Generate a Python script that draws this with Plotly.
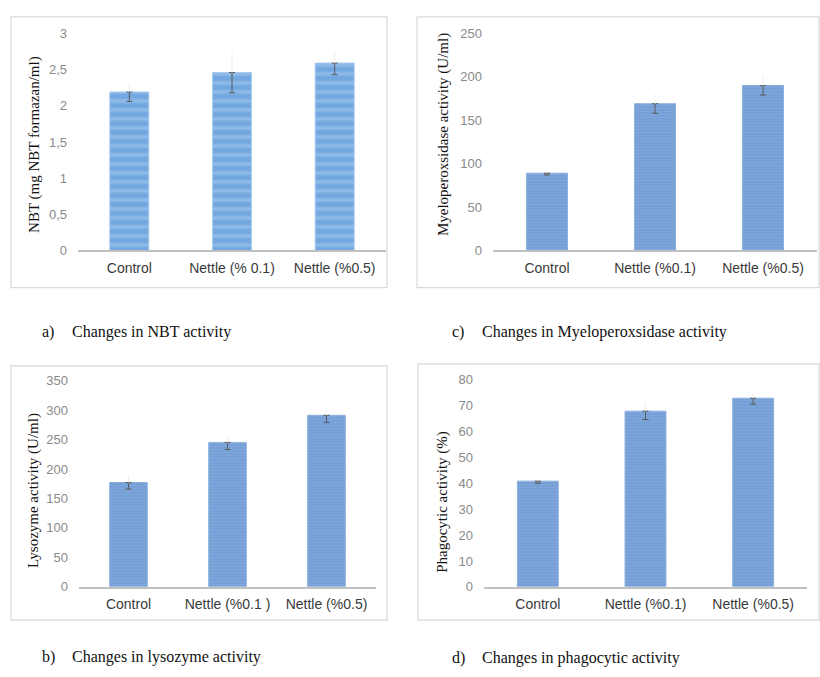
import plotly.graph_objects as go

W, H = 820, 677

# ---------------- data ----------------
cats_a = ["Control", "Nettle (% 0.1)", "Nettle (%0.5)"]
nbt = [2.19, 2.46, 2.59]
nbt_err = [0.13, 0.28, 0.16]

cats_c = ["Control", "Nettle (%0.1)", "Nettle (%0.5)"]
mpo = [89, 169, 190]
mpo_err = [2, 11, 11]

cats_b = ["Control", "Nettle (%0.1 )", "Nettle (%0.5)"]
lyso = [177, 245, 291]
lyso_err = [11, 12, 12]

cats_d = ["Control", "Nettle (%0.1)", "Nettle (%0.5)"]
phago = [40.8, 67.8, 72.8]
phago_err = [0.8, 3.2, 2.3]

ticks_a = [0, 0.5, 1, 1.5, 2, 2.5, 3]
ticktext_a = ["0", "0,5", "1", "1,5", "2", "2,5", "3"]
ticks_c = [0, 50, 100, 150, 200, 250]
ticks_b = [0, 50, 100, 150, 200, 250, 300, 350]
ticks_d = [0, 10, 20, 30, 40, 50, 60, 70, 80]

captions = [
    ("a)", "Changes in NBT activity", 40, 332),
    ("c)", "Changes in Myeloperoxsidase activity", 450, 332),
    ("b)", "Changes in lysozyme activity", 40, 665),
    ("d)", "Changes in phagocytic activity", 450, 666),
]

# ---------------- layout helpers ----------------
def px_x(p):
    return p / W

def px_y(p):
    return 1 - p / H

panels = [
    dict(cats=cats_a, vals=nbt, err=nbt_err, ticks=ticks_a, ticktext=ticktext_a, yr=[0, 3],
         xd=(78, 386), yd=(27, 249), title="NBT (mg NBT formazan/ml)", tpos=(35, 141), wide=True,
         box=(11, 10, 387, 287)),
    dict(cats=cats_c, vals=mpo, err=mpo_err, ticks=ticks_c, ticktext=None, yr=[0, 250],
         xd=(493, 817), yd=(27, 249), title="Myeloperoxsidase activity (U/ml)", tpos=(443, 131), wide=False,
         box=(417, 10, 819, 287)),
    dict(cats=cats_b, vals=lyso, err=lyso_err, ticks=ticks_b, ticktext=None, yr=[0, 350],
         xd=(79, 376), yd=(382, 593), title="Lysozyme activity (U/ml)", tpos=(33, 495), wide=False,
         box=(11, 367, 387, 627)),
    dict(cats=cats_d, vals=phago, err=phago_err, ticks=ticks_d, ticktext=None, yr=[0, 80],
         xd=(484, 807), yd=(381, 593), title="Phagocytic activity (%)", tpos=(443, 506), wide=False,
         box=(418, 365, 819, 627)),
]

fig = go.Figure()
annotations = []
shapes = []

for i, p in enumerate(panels, start=1):
    xa = "x" if i == 1 else f"x{i}"
    ya = "y" if i == 1 else f"y{i}"
    if p["wide"]:
        pattern = dict(shape="-", size=9, solidity=0.45, fgcolor="#a6cbef", bgcolor="#72a7e0",
                       fillmode="overlay")
        line = dict(color="#a9cbee", width=1)
    else:
        pattern = dict(shape="-", size=3, solidity=0.35, fgcolor="#5d89c6", bgcolor="#7fa7dc",
                       fillmode="overlay")
        line = dict(color="#8db0de", width=1)
    fig.add_trace(go.Bar(
        x=p["cats"], y=p["vals"], xaxis=xa, yaxis=ya,
        marker=dict(color="#7aa6dc", pattern=pattern, line=line),
        error_y=dict(type="data", symmetric=False, array=[0] * 3, arrayminus=p["err"],
                     color="#5a5a5a", thickness=1, width=3),
        showlegend=False, hoverinfo="skip",
    ))
    # faint upper half of error bars
    fig.add_trace(go.Scatter(
        x=p["cats"], y=p["vals"], xaxis=xa, yaxis=ya, mode="markers",
        marker=dict(size=1, opacity=0),
        error_y=dict(type="data", symmetric=False, array=p["err"], arrayminus=[0] * 3,
                     color="#eeeeee", thickness=1, width=0),
        showlegend=False, hoverinfo="skip",
    ))
    xkey = "xaxis" if i == 1 else f"xaxis{i}"
    ykey = "yaxis" if i == 1 else f"yaxis{i}"
    fig.update_layout(**{
        xkey: dict(domain=[px_x(p["xd"][0]), px_x(p["xd"][1])], anchor=ya,
                   showline=True, linecolor="#c0c0c0", linewidth=1.5, ticks="",
                   showgrid=False, zeroline=False,
                   tickfont=dict(family="Liberation Sans", size=14, color="#3a3a3a"),
                   ticklabelstandoff=4, fixedrange=True),
        ykey: dict(domain=[px_y(p["yd"][1]), px_y(p["yd"][0])], anchor=xa,
                   range=p["yr"], tickvals=p["ticks"],
                   ticktext=p["ticktext"] if p["ticktext"] else [str(t) for t in p["ticks"]],
                   showline=False, showgrid=False, zeroline=False, ticks="",
                   tickfont=dict(family="Liberation Sans", size=13, color="#8a8a8a"),
                   ticklabelstandoff=10, fixedrange=True),
    })
    annotations.append(dict(
        text=p["title"], x=px_x(p["tpos"][0]), y=px_y(p["tpos"][1]), xref="paper", yref="paper",
        textangle=-90, showarrow=False, xanchor="center", yanchor="middle",
        font=dict(family="Liberation Serif", size=15, color="#111111"),
    ))
    bx0, by0, bx1, by1 = p["box"]
    shapes.append(dict(type="rect", xref="paper", yref="paper",
                       x0=px_x(bx0), x1=px_x(bx1), y0=px_y(by1), y1=px_y(by0),
                       line=dict(color="#d9d9d9", width=1.2), fillcolor="rgba(0,0,0,0)",
                       layer="below"))

for lab, txt, cx, cy in captions:
    annotations.append(dict(
        text=lab, x=px_x(cx), y=px_y(cy), xref="paper", yref="paper", showarrow=False,
        xanchor="left", yanchor="middle",
        font=dict(family="Liberation Serif", size=16, color="#111111"),
    ))
    annotations.append(dict(
        text=txt, x=px_x(cx + 30), y=px_y(cy), xref="paper", yref="paper", showarrow=False,
        xanchor="left", yanchor="middle",
        font=dict(family="Liberation Serif", size=16, color="#111111"),
    ))

fig.update_layout(
    width=W, height=H, margin=dict(l=0, r=0, t=0, b=0),
    paper_bgcolor="white", plot_bgcolor="white",
    bargap=0.62, annotations=annotations, shapes=shapes,
)

fig.write_html("out.html", config={"displayModeBar": False},
               post_script="document.body.style.margin='0';document.body.style.overflow='hidden';")
